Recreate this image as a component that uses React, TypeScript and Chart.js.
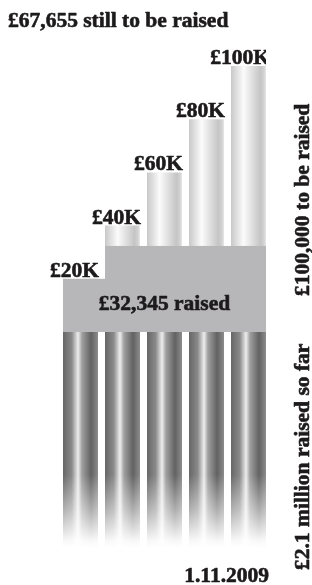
import { useEffect, useRef } from "react";
import { Chart, registerables } from "chart.js";

Chart.register(...registerables);

// ---- data ----
const categories = ["£20K", "£40K", "£60K", "£80K", "£100K"];
const targetValues = [20000, 40000, 60000, 80000, 100000];
const raisedSoFar = 32345;
const previousTotals = [2100000, 2100000, 2100000, 2100000, 2100000];
const targetMax = 100000;
const previousMax = 2100000;
const titleText = "£67,655 still to be raised";
const raisedText = "£32,345 raised";
const upperSideText = "£100,000 to be raised";
const lowerSideText = "£2.1 million raised so far";
const dateText = "1.11.2009";

const FONT = '"Liberation Serif", "Times New Roman", serif';
const INK = "#1c1a1b";
const GREY = "#b7b7b9";
const BAR_PCT = 35 / 42;

const lightStops: [number, string][] = [
  [0, "#c8c8c8"],
  [0.36, "#fbfbfb"],
  [0.5, "#ebebeb"],
  [0.84, "#c5c5c5"],
  [0.94, "#d2d2d2"],
  [1, "#e8e8e8"],
];
const darkStops: [number, string][] = [
  [0, "#666666"],
  [0.25, "#8a8a8a"],
  [0.43, "#eeeeee"],
  [0.54, "#a0a0a0"],
  [0.8, "#626262"],
  [1, "#8c8c8c"],
];

function barGradient(stops: [number, string][], fallback: string) {
  return (c: any) => {
    const chart = c.chart;
    const x = chart.scales?.x;
    if (!chart.chartArea || !x || c.dataIndex === undefined) return fallback;
    const center = x.getPixelForValue(c.dataIndex);
    const w = (x.getPixelForValue(1) - x.getPixelForValue(0)) * BAR_PCT;
    const g = chart.ctx.createLinearGradient(center - w / 2, 0, center + w / 2, 0);
    stops.forEach(([o, col]) => g.addColorStop(o, col));
    return g;
  };
}

function boldText(ctx: CanvasRenderingContext2D, t: string, x: number, y: number) {
  ctx.fillText(t, x, y);
  ctx.strokeText(t, x, y);
}

const overlayPlugin = {
  id: "overlay",
  afterDatasetsDraw(chart: any) {
    const { ctx, scales } = chart;
    const y = scales.y;
    const y2 = scales.y2;
    const bars = chart.getDatasetMeta(0).data;
    const n = bars.length;
    const lefts = bars.map((b: any) => b.x - b.width / 2);
    const rights = bars.map((b: any) => b.x + b.width / 2);
    const L = lefts[0];
    const R = rights[n - 1];

    // fade lower columns to white
    const fadeTop = y2.bottom - (y2.bottom - y2.top) * 0.34;
    const fg = ctx.createLinearGradient(0, fadeTop, 0, y2.bottom);
    fg.addColorStop(0, "rgba(255,255,255,0)");
    fg.addColorStop(0.5, "rgba(255,255,255,0.5)");
    fg.addColorStop(0.9, "rgba(255,255,255,0.95)");
    fg.addColorStop(1, "rgba(255,255,255,1)");
    ctx.save();
    ctx.fillStyle = fg;
    ctx.fillRect(L - 4, fadeTop, R - L + 8, y2.bottom - fadeTop + 2);
    ctx.restore();

    // raised block
    const base = y.getPixelForValue(0);
    ctx.save();
    ctx.fillStyle = GREY;
    for (let i = 0; i < n; i++) {
      const x0 = lefts[i];
      const x1 = i < n - 1 ? lefts[i + 1] : rights[i];
      const top = y.getPixelForValue(Math.min(targetValues[i], raisedSoFar));
      ctx.fillRect(x0, top, x1 - x0, base - top);
    }
    ctx.restore();

    ctx.save();
    ctx.fillStyle = INK;
    ctx.strokeStyle = INK;
    ctx.lineWidth = 0.6;
    ctx.lineJoin = "round";
    ctx.font = `bold 21.5px ${FONT}`;
    ctx.textBaseline = "alphabetic";

    // bar labels (clipped at the right edge of the last column)
    ctx.save();
    ctx.beginPath();
    ctx.rect(0, 0, R, chart.height);
    ctx.clip();
    ctx.textAlign = "right";
    for (let i = 0; i < n; i++) {
      const shift = i === n - 1 ? 4 : 1;
      boldText(ctx, categories[i], rights[i] + shift, bars[i].y - 2);
    }
    ctx.restore();

    // raised label
    ctx.textAlign = "center";
    boldText(ctx, raisedText, (L + R) / 2, base - 22);

    // title
    ctx.textAlign = "left";
    boldText(ctx, titleText, 8, 26.5);

    // date
    ctx.textAlign = "right";
    boldText(ctx, dateText, 269, 581.5);

    // rotated side texts
    ctx.textAlign = "left";
    ctx.save();
    ctx.translate(309, base - 36);
    ctx.rotate(-Math.PI / 2);
    boldText(ctx, upperSideText, 0, 0);
    ctx.restore();
    ctx.save();
    ctx.translate(309, 570);
    ctx.rotate(-Math.PI / 2);
    boldText(ctx, lowerSideText, 0, 0);
    ctx.restore();

    ctx.restore();
  },
};

export default function App() {
  const ref = useRef<HTMLCanvasElement | null>(null);

  useEffect(() => {
    document.body.style.margin = "0";
    const canvas = ref.current;
    if (!canvas) return;
    const chart = new Chart(canvas, {
      type: "bar",
      data: {
        labels: categories,
        datasets: [
          {
            label: "Target",
            data: targetValues,
            yAxisID: "y",
            grouped: false,
            barPercentage: BAR_PCT,
            categoryPercentage: 1,
            borderWidth: 0,
            backgroundColor: barGradient(lightStops, "#e0e0e0"),
          } as any,
          {
            label: "Raised before",
            data: previousTotals,
            yAxisID: "y2",
            grouped: false,
            barPercentage: BAR_PCT,
            categoryPercentage: 1,
            borderWidth: 0,
            backgroundColor: barGradient(darkStops, "#808080"),
          } as any,
        ],
      },
      options: {
        responsive: false,
        animation: false,
        devicePixelRatio: 1,
        layout: { padding: { left: 59.5, right: 42.5, top: 66, bottom: 37 } },
        plugins: {
          legend: { display: false },
          tooltip: { enabled: false },
          title: { display: false },
        },
        scales: {
          x: { type: "category", display: false, offset: true, grid: { display: false } },
          y: {
            type: "linear",
            display: false,
            min: 0,
            max: targetMax,
            position: "right",
            stack: "cols",
            stackWeight: 266,
          },
          y2: {
            type: "linear",
            display: false,
            min: 0,
            max: previousMax,
            position: "right",
            stack: "cols",
            stackWeight: 216,
          },
        } as any,
      },
      plugins: [overlayPlugin],
    });
    return () => chart.destroy();
  }, []);

  return (
    <div style={{ position: "absolute", left: 0, top: 0, width: 312, height: 585 }}>
      <canvas ref={ref} width={312} height={585} style={{ display: "block" }} />
    </div>
  );
}
